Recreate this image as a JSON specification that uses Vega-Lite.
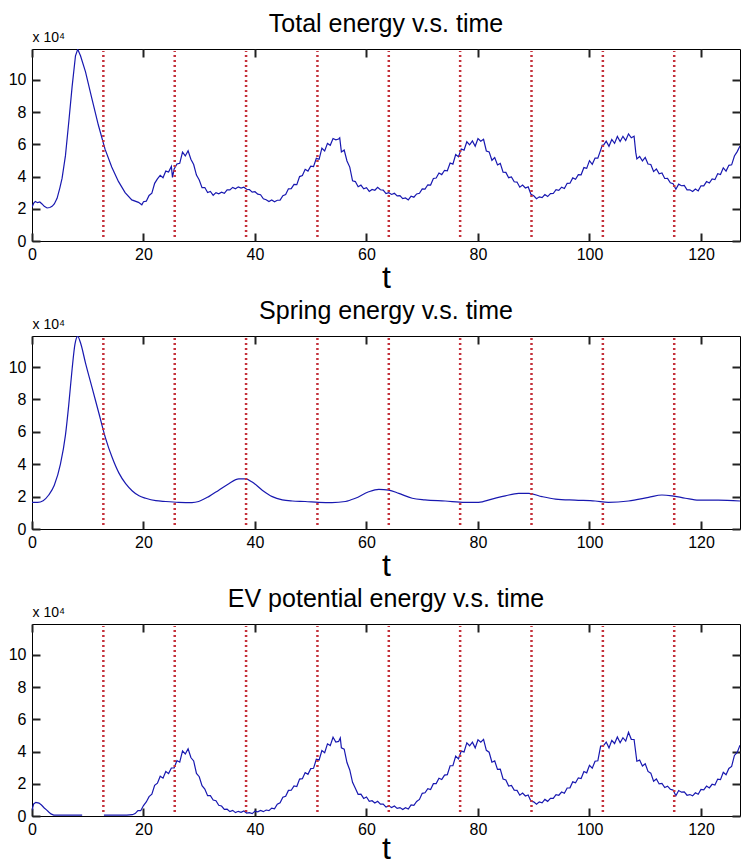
{
  "$schema": "https://vega.github.io/schema/vega-lite/v6.json",
  "background": "white",
  "padding": {"left": 7, "top": 11, "right": 0, "bottom": 0},
  "bounds": "flush",
  "spacing": 95,
  "datasets": {
    "vlines": [{"x": 12.8}, {"x": 25.6}, {"x": 38.4}, {"x": 51.2}, {"x": 64}, {"x": 76.8}, {"x": 89.6}, {"x": 102.4}, {"x": 115.2}],
    "total": [
      {"t":0,"v":2.1},{"t":0.3,"v":2.35},{"t":0.6,"v":2.45},{"t":1.0,"v":2.38},{"t":1.4,"v":2.42},{"t":1.8,"v":2.3},{"t":2.2,"v":2.15},{"t":2.7,"v":2.05},{"t":3.2,"v":2.08},{"t":3.6,"v":2.15},{"t":4.0,"v":2.3},{"t":4.5,"v":2.65},{"t":5.0,"v":3.3},{"t":5.4,"v":3.9},{"t":6.0,"v":5.3},{"t":6.6,"v":7.4},{"t":7.2,"v":9.6},{"t":7.8,"v":11.5},{"t":8.2,"v":11.9},{"t":8.7,"v":11.5},{"t":9.6,"v":10.5},{"t":10.7,"v":8.9},{"t":11.9,"v":7.2},{"t":13.1,"v":5.7},{"t":14.3,"v":4.6},{"t":15.5,"v":3.7},{"t":16.7,"v":3.0},{"t":17.9,"v":2.55},{"t":19.1,"v":2.4},{"t":19.7,"v":2.25},
      {"t":20,"v":2.44},{"t":20.5,"v":2.47},{"t":21,"v":2.83},{"t":21.5,"v":2.97},{"t":22,"v":3.58},{"t":22.5,"v":3.86},{"t":23,"v":4.08},{"t":23.5,"v":3.93},{"t":24,"v":4.34},{"t":24.5,"v":4.28},{"t":25,"v":4.63},{"t":25.2,"v":3.95},{"t":25.5,"v":4.48},{"t":26,"v":4.78},{"t":26.5,"v":4.82},{"t":27,"v":5.52},{"t":27.5,"v":5.28},{"t":28,"v":5.6},{"t":28.5,"v":5.08},{"t":29,"v":4.75},{"t":29.5,"v":4.09},{"t":30,"v":3.79},{"t":30.5,"v":3.31},{"t":31,"v":3.32},{"t":31.5,"v":3.01},{"t":32,"v":3.08},{"t":32.5,"v":2.84},{"t":33,"v":3.0},{"t":33.5,"v":2.93},{"t":34,"v":3.03},{"t":34.5,"v":2.96},{"t":35,"v":3.18},{"t":35.5,"v":3.17},{"t":36,"v":3.33},{"t":36.5,"v":3.24},{"t":37,"v":3.36},{"t":37.5,"v":3.28},{"t":38,"v":3.34},{"t":38.5,"v":3.21},{"t":39,"v":3.19},{"t":39.5,"v":3.03},{"t":40,"v":3.06},{"t":40.5,"v":2.91},{"t":41,"v":2.87},{"t":41.5,"v":2.62},{"t":42,"v":2.56},{"t":42.5,"v":2.45},{"t":43,"v":2.55},{"t":43.5,"v":2.44},{"t":44,"v":2.53},{"t":44.5,"v":2.54},{"t":45,"v":2.81},{"t":45.5,"v":2.88},{"t":46,"v":3.24},{"t":46.5,"v":3.25},{"t":47,"v":3.52},{"t":47.5,"v":3.5},{"t":48,"v":4.0},{"t":48.5,"v":4.07},{"t":49,"v":4.45},{"t":49.5,"v":4.34},{"t":50,"v":4.65},{"t":50.5,"v":4.62},{"t":51,"v":5.13},{"t":51.5,"v":5.07},{"t":52,"v":5.76},{"t":52.5,"v":5.59},{"t":53,"v":6.06},{"t":53.5,"v":5.94},{"t":54,"v":6.36},{"t":54.5,"v":6.28},{"t":55,"v":6.33},{"t":55.2,"v":6.4},{"t":55.5,"v":5.53},{"t":56,"v":5.65},{"t":56.5,"v":4.97},{"t":57,"v":4.59},{"t":57.5,"v":3.74},{"t":58,"v":3.69},{"t":58.5,"v":3.37},{"t":59,"v":3.47},{"t":59.5,"v":3.24},{"t":60,"v":3.31},{"t":60.5,"v":3.08},{"t":61,"v":3.2},{"t":61.5,"v":3.15},{"t":62,"v":3.33},{"t":62.5,"v":3.18},{"t":63,"v":3.16},{"t":63.5,"v":2.94},{"t":64,"v":3.0},{"t":64.5,"v":2.89},{"t":65,"v":2.96},{"t":65.5,"v":2.8},{"t":66,"v":2.82},{"t":66.5,"v":2.63},{"t":67,"v":2.67},{"t":67.5,"v":2.55},{"t":68,"v":2.78},{"t":68.5,"v":2.72},{"t":69,"v":2.92},{"t":69.5,"v":2.96},{"t":70,"v":3.24},{"t":70.5,"v":3.22},{"t":71,"v":3.49},{"t":71.5,"v":3.47},{"t":72,"v":3.88},{"t":72.5,"v":3.91},{"t":73,"v":4.22},{"t":73.5,"v":4.12},{"t":74,"v":4.39},{"t":74.5,"v":4.36},{"t":75,"v":4.84},{"t":75.5,"v":4.77},{"t":76,"v":5.37},{"t":76.5,"v":5.23},{"t":77,"v":5.71},{"t":77.5,"v":5.64},{"t":78,"v":6.16},{"t":78.5,"v":5.97},{"t":79,"v":6.21},{"t":79.5,"v":5.88},{"t":80,"v":6.36},{"t":80.5,"v":6.19},{"t":81,"v":6.31},{"t":81.5,"v":5.59},{"t":82,"v":5.53},{"t":82.5,"v":5.01},{"t":83,"v":5.18},{"t":83.5,"v":4.72},{"t":84,"v":4.82},{"t":84.5,"v":4.27},{"t":85,"v":4.26},{"t":85.5,"v":3.93},{"t":86,"v":3.98},{"t":86.5,"v":3.68},{"t":87,"v":3.66},{"t":87.5,"v":3.34},{"t":88,"v":3.47},{"t":88.5,"v":3.29},{"t":89,"v":3.36},{"t":89.5,"v":2.9},{"t":90,"v":2.81},{"t":90.5,"v":2.63},{"t":91,"v":2.74},{"t":91.5,"v":2.69},{"t":92,"v":2.88},{"t":92.5,"v":2.76},{"t":93,"v":2.94},{"t":93.5,"v":2.95},{"t":94,"v":3.19},{"t":94.5,"v":3.14},{"t":95,"v":3.34},{"t":95.5,"v":3.26},{"t":96,"v":3.58},{"t":96.5,"v":3.59},{"t":97,"v":3.92},{"t":97.5,"v":3.83},{"t":98,"v":4.12},{"t":98.5,"v":4.11},{"t":99,"v":4.56},{"t":99.5,"v":4.51},{"t":100,"v":4.99},{"t":100.5,"v":4.76},{"t":101,"v":5.15},{"t":101.5,"v":5.14},{"t":102,"v":5.64},{"t":102.3,"v":5.95},{"t":102.5,"v":5.94},{"t":103,"v":6.2},{"t":103.5,"v":5.88},{"t":104,"v":6.3},{"t":104.5,"v":6.06},{"t":105,"v":6.49},{"t":105.5,"v":6.18},{"t":106,"v":6.5},{"t":106.5,"v":6.24},{"t":107,"v":6.65},{"t":107.5,"v":6.41},{"t":108,"v":6.5},{"t":108.3,"v":5.5},{"t":108.5,"v":5.1},{"t":109,"v":5.25},{"t":109.5,"v":4.97},{"t":110,"v":5.19},{"t":110.5,"v":4.78},{"t":111,"v":4.75},{"t":111.5,"v":4.31},{"t":112,"v":4.47},{"t":112.5,"v":4.17},{"t":113,"v":4.22},{"t":113.5,"v":3.88},{"t":114,"v":3.89},{"t":114.5,"v":3.61},{"t":115,"v":3.56},{"t":115.5,"v":3.21},{"t":116,"v":3.53},{"t":116.5,"v":3.43},{"t":117,"v":3.45},{"t":117.5,"v":3.18},{"t":118,"v":3.18},{"t":118.5,"v":3.07},{"t":119,"v":3.23},{"t":119.5,"v":3.11},{"t":120,"v":3.43},{"t":120.5,"v":3.42},{"t":121,"v":3.69},{"t":121.5,"v":3.6},{"t":122,"v":3.85},{"t":122.5,"v":3.81},{"t":123,"v":4.18},{"t":123.5,"v":4.13},{"t":124,"v":4.54},{"t":124.5,"v":4.34},{"t":125,"v":4.7},{"t":125.5,"v":4.73},{"t":126,"v":5.28},{"t":126.5,"v":5.55},{"t":127,"v":5.9}
    ],
    "spring": [
      {"t":0,"v":1.65},{"t":1,"v":1.65},{"t":2,"v":1.75},{"t":3,"v":2.1},{"t":4,"v":2.7},{"t":5.1,"v":4.0},{"t":6.0,"v":5.8},{"t":6.6,"v":7.7},{"t":7.2,"v":9.9},{"t":7.7,"v":11.4},{"t":8.2,"v":11.9},{"t":8.7,"v":11.5},{"t":9.6,"v":10.25},{"t":10.8,"v":8.7},{"t":12,"v":7.15},{"t":13.2,"v":5.6},{"t":14.4,"v":4.4},{"t":15.6,"v":3.45},{"t":16.8,"v":2.8},{"t":18,"v":2.35},{"t":19.2,"v":2.05},{"t":20.4,"v":1.9},{"t":22.2,"v":1.75},{"t":24,"v":1.7},{"t":26.3,"v":1.65},{"t":28.7,"v":1.63},{"t":29.9,"v":1.7},{"t":31.7,"v":2.0},{"t":33.5,"v":2.4},{"t":35.3,"v":2.8},{"t":37.1,"v":3.1},{"t":38.3,"v":3.1},{"t":39.5,"v":2.9},{"t":41.3,"v":2.4},{"t":43.1,"v":2.0},{"t":44.9,"v":1.8},{"t":46.7,"v":1.73},{"t":49,"v":1.7},{"t":51.4,"v":1.65},{"t":53.8,"v":1.63},{"t":56.2,"v":1.7},{"t":58,"v":1.9},{"t":60.4,"v":2.3},{"t":62.2,"v":2.45},{"t":64,"v":2.4},{"t":65.8,"v":2.2},{"t":68.2,"v":1.9},{"t":70.5,"v":1.8},{"t":74.1,"v":1.73},{"t":77.7,"v":1.65},{"t":80.1,"v":1.65},{"t":82.5,"v":1.85},{"t":84.9,"v":2.05},{"t":87.3,"v":2.2},{"t":89.1,"v":2.2},{"t":91.5,"v":2.0},{"t":93.9,"v":1.85},{"t":97.4,"v":1.78},{"t":101,"v":1.73},{"t":103.4,"v":1.65},{"t":107,"v":1.73},{"t":110.6,"v":1.95},{"t":113,"v":2.1},{"t":114.8,"v":2.05},{"t":117.2,"v":1.9},{"t":119.6,"v":1.78},{"t":123.1,"v":1.78},{"t":127,"v":1.73}
    ],
    "ev": [
      {"s":"a","t":0,"v":0.35},{"s":"a","t":0.3,"v":0.75},{"s":"a","t":0.7,"v":0.85},{"s":"a","t":1.25,"v":0.8},{"s":"a","t":1.7,"v":0.68},{"s":"a","t":2.2,"v":0.5},{"s":"a","t":2.6,"v":0.38},{"s":"a","t":3.0,"v":0.25},{"s":"a","t":3.4,"v":0.13},{"s":"a","t":3.9,"v":0.06},{"s":"a","t":4.5,"v":0.05},{"s":"a","t":6,"v":0.05},{"s":"a","t":7.5,"v":0.05},{"s":"a","t":9,"v":0.05},
      {"s":"b","t":12.9,"v":0.05},{"s":"b","t":15,"v":0.05},{"s":"b","t":17,"v":0.06},{"s":"b","t":18,"v":0.08},{"s":"b","t":18.5,"v":0.15},
      {"s":"b","t":19,"v":0.34},{"s":"b","t":19.5,"v":0.33},{"s":"b","t":20,"v":0.65},{"s":"b","t":20.5,"v":0.87},{"s":"b","t":21,"v":1.2},{"s":"b","t":21.5,"v":1.35},{"s":"b","t":22,"v":1.9},{"s":"b","t":22.5,"v":2.04},{"s":"b","t":23,"v":2.47},{"s":"b","t":23.5,"v":2.35},{"s":"b","t":24,"v":2.76},{"s":"b","t":24.5,"v":2.63},{"s":"b","t":25,"v":2.98},{"s":"b","t":25.5,"v":2.99},{"s":"b","t":26,"v":3.44},{"s":"b","t":26.5,"v":3.34},{"s":"b","t":27,"v":4.04},{"s":"b","t":27.5,"v":3.85},{"s":"b","t":28,"v":4.17},{"s":"b","t":28.5,"v":3.63},{"s":"b","t":29,"v":3.42},{"s":"b","t":29.5,"v":2.64},{"s":"b","t":30,"v":2.44},{"s":"b","t":30.5,"v":1.88},{"s":"b","t":31,"v":1.67},{"s":"b","t":31.5,"v":1.26},{"s":"b","t":32,"v":1.26},{"s":"b","t":32.5,"v":0.99},{"s":"b","t":33,"v":0.95},{"s":"b","t":33.5,"v":0.67},{"s":"b","t":34,"v":0.62},{"s":"b","t":34.5,"v":0.41},{"s":"b","t":35,"v":0.42},{"s":"b","t":35.5,"v":0.27},{"s":"b","t":36,"v":0.35},{"s":"b","t":36.5,"v":0.21},{"s":"b","t":37,"v":0.29},{"s":"b","t":37.5,"v":0.23},{"s":"b","t":38,"v":0.31},{"s":"b","t":38.5,"v":0.18},{"s":"b","t":39,"v":0.21},{"s":"b","t":39.5,"v":0.15},{"s":"b","t":40,"v":0.3},{"s":"b","t":40.5,"v":0.26},{"s":"b","t":41,"v":0.35},{"s":"b","t":41.5,"v":0.27},{"s":"b","t":42,"v":0.37},{"s":"b","t":42.5,"v":0.33},{"s":"b","t":43,"v":0.49},{"s":"b","t":43.5,"v":0.44},{"s":"b","t":44,"v":0.73},{"s":"b","t":44.5,"v":0.82},{"s":"b","t":45,"v":1.16},{"s":"b","t":45.5,"v":1.23},{"s":"b","t":46,"v":1.59},{"s":"b","t":46.5,"v":1.6},{"s":"b","t":47,"v":1.87},{"s":"b","t":47.5,"v":1.83},{"s":"b","t":48,"v":2.29},{"s":"b","t":48.5,"v":2.32},{"s":"b","t":49,"v":2.7},{"s":"b","t":49.5,"v":2.59},{"s":"b","t":50,"v":2.94},{"s":"b","t":50.5,"v":2.96},{"s":"b","t":51,"v":3.52},{"s":"b","t":51.5,"v":3.48},{"s":"b","t":52,"v":4.06},{"s":"b","t":52.5,"v":3.93},{"s":"b","t":53,"v":4.48},{"s":"b","t":53.5,"v":4.37},{"s":"b","t":54,"v":4.89},{"s":"b","t":54.5,"v":4.59},{"s":"b","t":55,"v":4.63},{"s":"b","t":55.3,"v":4.85},{"s":"b","t":55.5,"v":4.23},{"s":"b","t":56,"v":4.15},{"s":"b","t":56.5,"v":3.32},{"s":"b","t":57,"v":2.86},{"s":"b","t":57.5,"v":2.09},{"s":"b","t":58,"v":1.72},{"s":"b","t":58.5,"v":1.35},{"s":"b","t":59,"v":1.36},{"s":"b","t":59.5,"v":1.09},{"s":"b","t":60,"v":1.18},{"s":"b","t":60.5,"v":0.91},{"s":"b","t":61,"v":0.95},{"s":"b","t":61.5,"v":0.81},{"s":"b","t":62,"v":0.91},{"s":"b","t":62.5,"v":0.74},{"s":"b","t":63,"v":0.74},{"s":"b","t":63.5,"v":0.55},{"s":"b","t":64,"v":0.63},{"s":"b","t":64.5,"v":0.53},{"s":"b","t":65,"v":0.62},{"s":"b","t":65.5,"v":0.47},{"s":"b","t":66,"v":0.52},{"s":"b","t":66.5,"v":0.4},{"s":"b","t":67,"v":0.51},{"s":"b","t":67.5,"v":0.43},{"s":"b","t":68,"v":0.69},{"s":"b","t":68.5,"v":0.66},{"s":"b","t":69,"v":0.9},{"s":"b","t":69.5,"v":1.03},{"s":"b","t":70,"v":1.41},{"s":"b","t":70.5,"v":1.44},{"s":"b","t":71,"v":1.69},{"s":"b","t":71.5,"v":1.64},{"s":"b","t":72,"v":2.01},{"s":"b","t":72.5,"v":2.01},{"s":"b","t":73,"v":2.34},{"s":"b","t":73.5,"v":2.26},{"s":"b","t":74,"v":2.54},{"s":"b","t":74.5,"v":2.57},{"s":"b","t":75,"v":3.12},{"s":"b","t":75.5,"v":3.12},{"s":"b","t":76,"v":3.72},{"s":"b","t":76.5,"v":3.55},{"s":"b","t":77,"v":4.03},{"s":"b","t":77.5,"v":3.98},{"s":"b","t":78,"v":4.54},{"s":"b","t":78.5,"v":4.36},{"s":"b","t":79,"v":4.58},{"s":"b","t":79.5,"v":4.23},{"s":"b","t":80,"v":4.73},{"s":"b","t":80.5,"v":4.58},{"s":"b","t":81,"v":4.76},{"s":"b","t":81.5,"v":4.08},{"s":"b","t":82,"v":3.96},{"s":"b","t":82.5,"v":3.34},{"s":"b","t":83,"v":3.42},{"s":"b","t":83.5,"v":2.89},{"s":"b","t":84,"v":2.91},{"s":"b","t":84.5,"v":2.3},{"s":"b","t":85,"v":2.24},{"s":"b","t":85.5,"v":1.86},{"s":"b","t":86,"v":1.9},{"s":"b","t":86.5,"v":1.61},{"s":"b","t":87,"v":1.59},{"s":"b","t":87.5,"v":1.29},{"s":"b","t":88,"v":1.42},{"s":"b","t":88.5,"v":1.24},{"s":"b","t":89,"v":1.31},{"s":"b","t":89.5,"v":0.92},{"s":"b","t":90,"v":0.88},{"s":"b","t":90.5,"v":0.73},{"s":"b","t":91,"v":0.88},{"s":"b","t":91.5,"v":0.82},{"s":"b","t":92,"v":1.03},{"s":"b","t":92.5,"v":0.91},{"s":"b","t":93,"v":1.09},{"s":"b","t":93.5,"v":1.09},{"s":"b","t":94,"v":1.33},{"s":"b","t":94.5,"v":1.29},{"s":"b","t":95,"v":1.49},{"s":"b","t":95.5,"v":1.41},{"s":"b","t":96,"v":1.74},{"s":"b","t":96.5,"v":1.75},{"s":"b","t":97,"v":2.12},{"s":"b","t":97.5,"v":2.06},{"s":"b","t":98,"v":2.37},{"s":"b","t":98.5,"v":2.33},{"s":"b","t":99,"v":2.76},{"s":"b","t":99.5,"v":2.68},{"s":"b","t":100,"v":3.15},{"s":"b","t":100.5,"v":2.97},{"s":"b","t":101,"v":3.4},{"s":"b","t":101.5,"v":3.43},{"s":"b","t":102,"v":4.34},{"s":"b","t":102.5,"v":4.36},{"s":"b","t":103,"v":4.59},{"s":"b","t":103.5,"v":4.23},{"s":"b","t":104,"v":4.7},{"s":"b","t":104.5,"v":4.5},{"s":"b","t":105,"v":4.91},{"s":"b","t":105.5,"v":4.55},{"s":"b","t":106,"v":4.86},{"s":"b","t":106.5,"v":4.65},{"s":"b","t":107,"v":5.2},{"s":"b","t":107.5,"v":4.76},{"s":"b","t":108,"v":4.75},{"s":"b","t":108.5,"v":3.4},{"s":"b","t":109,"v":3.47},{"s":"b","t":109.5,"v":3.1},{"s":"b","t":110,"v":3.24},{"s":"b","t":110.5,"v":2.77},{"s":"b","t":111,"v":2.66},{"s":"b","t":111.5,"v":2.16},{"s":"b","t":112,"v":2.3},{"s":"b","t":112.5,"v":1.99},{"s":"b","t":113,"v":2.02},{"s":"b","t":113.5,"v":1.77},{"s":"b","t":114,"v":1.85},{"s":"b","t":114.5,"v":1.66},{"s":"b","t":115,"v":1.61},{"s":"b","t":115.5,"v":1.26},{"s":"b","t":116,"v":1.58},{"s":"b","t":116.5,"v":1.48},{"s":"b","t":117,"v":1.5},{"s":"b","t":117.5,"v":1.29},{"s":"b","t":118,"v":1.33},{"s":"b","t":118.5,"v":1.25},{"s":"b","t":119,"v":1.44},{"s":"b","t":119.5,"v":1.35},{"s":"b","t":120,"v":1.65},{"s":"b","t":120.5,"v":1.62},{"s":"b","t":121,"v":1.86},{"s":"b","t":121.5,"v":1.74},{"s":"b","t":122,"v":1.97},{"s":"b","t":122.5,"v":1.92},{"s":"b","t":123,"v":2.29},{"s":"b","t":123.5,"v":2.26},{"s":"b","t":124,"v":2.72},{"s":"b","t":124.5,"v":2.56},{"s":"b","t":125,"v":2.95},{"s":"b","t":125.5,"v":3.08},{"s":"b","t":126,"v":3.76},{"s":"b","t":126.5,"v":3.95},{"s":"b","t":127,"v":4.4}
    ]
  },
  "config": {
    "font": "Liberation Sans",
    "view": {"stroke": "#000000", "strokeWidth": 1},
    "axis": {
      "grid": false, "domain": false, "ticks": true, "tickColor": "#222222", "tickOpacity": 1, "tickSize": 8, "tickWidth": 2, "offset": -8,
      "labelFont": "Liberation Sans", "labelFontSize": 16, "labelColor": "#000000",
      "labelFlush": false, "labelOverlap": false,
      "titleFont": "Liberation Sans", "titleFontWeight": "normal", "titleColor": "#000000"
    },
    "title": {"font": "Liberation Sans", "fontSize": 25, "fontWeight": "normal", "color": "#000000", "anchor": "middle", "baseline": "alphabetic", "frame": "group", "offset": -7}
  },
  "vconcat": [
    {
      "width": 708, "height": 192,
      "title": {"text": "Total energy v.s. time"},
      "layer": [
        {"data": {"name": "total"}, "mark": {"type": "line", "color": "#1818b0", "strokeWidth": 1.2, "clip": true},
         "encoding": {
           "x": {"field": "t", "type": "quantitative", "scale": {"domain": [0, 127], "nice": false, "zero": false},
                 "axis": {"orient": "bottom", "values": [0,20,40,60,80,100,120], "tickColor": "#222222", "tickWidth": 2, "labelFontSize": 16, "labelPadding": 5, "title": "t", "titleFontSize": 32, "titleBaseline": "alphabetic", "titleY": 54}},
           "y": {"field": "v", "type": "quantitative", "scale": {"domain": [0, 11.92], "nice": false},
                 "axis": {"orient": "left", "values": [0,2,4,6,8,10], "tickColor": "#222222", "tickWidth": 2, "labelFontSize": 16, "labelPadding": 6, "title": "x 10⁴", "titleFontSize": 14, "titleAngle": 0, "titleAlign": "left", "titleBaseline": "alphabetic", "titleX": -8, "titleY": -8}}
         }},
        {"data": {"name": "vlines"}, "mark": {"type": "rule", "color": "#c4303a", "strokeWidth": 2.5, "strokeDash": [2, 3]},
         "encoding": {
           "x": {"field": "x", "type": "quantitative", "axis": {"orient": "top", "values": [0,20,40,60,80,100,120], "tickColor": "#222222", "tickWidth": 2, "labels": false, "title": null}},
           "y": {"datum": 0.25, "type": "quantitative", "axis": {"orient": "right", "values": [0,2,4,6,8,10], "tickColor": "#222222", "tickWidth": 2, "labels": false, "title": null}},
           "y2": {"datum": 11.8}
         }}
      ],
      "resolve": {"axis": {"x": "independent", "y": "independent"}}
    },
    {
      "width": 708, "height": 193,
      "title": {"text": "Spring energy v.s. time"},
      "layer": [
        {"data": {"name": "spring"}, "mark": {"type": "line", "color": "#1818b0", "strokeWidth": 1.2, "clip": true, "interpolate": "monotone"},
         "encoding": {
           "x": {"field": "t", "type": "quantitative", "scale": {"domain": [0, 127], "nice": false, "zero": false},
                 "axis": {"orient": "bottom", "values": [0,20,40,60,80,100,120], "tickColor": "#222222", "tickWidth": 2, "labelFontSize": 16, "labelPadding": 5, "title": "t", "titleFontSize": 32, "titleBaseline": "alphabetic", "titleY": 54}},
           "y": {"field": "v", "type": "quantitative", "scale": {"domain": [0, 11.92], "nice": false},
                 "axis": {"orient": "left", "values": [0,2,4,6,8,10], "tickColor": "#222222", "tickWidth": 2, "labelFontSize": 16, "labelPadding": 6, "title": "x 10⁴", "titleFontSize": 14, "titleAngle": 0, "titleAlign": "left", "titleBaseline": "alphabetic", "titleX": -8, "titleY": -8}}
         }},
        {"data": {"name": "vlines"}, "mark": {"type": "rule", "color": "#c4303a", "strokeWidth": 2.5, "strokeDash": [2, 3]},
         "encoding": {
           "x": {"field": "x", "type": "quantitative", "axis": {"orient": "top", "values": [0,20,40,60,80,100,120], "tickColor": "#222222", "tickWidth": 2, "labels": false, "title": null}},
           "y": {"datum": 0.25, "type": "quantitative", "axis": {"orient": "right", "values": [0,2,4,6,8,10], "tickColor": "#222222", "tickWidth": 2, "labels": false, "title": null}},
           "y2": {"datum": 11.8}
         }}
      ],
      "resolve": {"axis": {"x": "independent", "y": "independent"}}
    },
    {
      "width": 708, "height": 192,
      "title": {"text": "EV potential energy v.s. time"},
      "layer": [
        {"data": {"name": "ev"}, "mark": {"type": "line", "color": "#1818b0", "strokeWidth": 1.2, "clip": true},
         "encoding": {
           "x": {"field": "t", "type": "quantitative", "scale": {"domain": [0, 127], "nice": false, "zero": false},
                 "axis": {"orient": "bottom", "values": [0,20,40,60,80,100,120], "tickColor": "#222222", "tickWidth": 2, "labelFontSize": 16, "labelPadding": 5, "title": "t", "titleFontSize": 32, "titleBaseline": "alphabetic", "titleY": 50}},
           "y": {"field": "v", "type": "quantitative", "scale": {"domain": [0, 11.92], "nice": false},
                 "axis": {"orient": "left", "values": [0,2,4,6,8,10], "tickColor": "#222222", "tickWidth": 2, "labelFontSize": 16, "labelPadding": 6, "title": "x 10⁴", "titleFontSize": 14, "titleAngle": 0, "titleAlign": "left", "titleBaseline": "alphabetic", "titleX": -8, "titleY": -8}},
           "detail": {"field": "s", "type": "nominal"}
         }},
        {"data": {"name": "vlines"}, "mark": {"type": "rule", "color": "#c4303a", "strokeWidth": 2.5, "strokeDash": [2, 3]},
         "encoding": {
           "x": {"field": "x", "type": "quantitative", "axis": {"orient": "top", "values": [0,20,40,60,80,100,120], "tickColor": "#222222", "tickWidth": 2, "labels": false, "title": null}},
           "y": {"datum": 0.25, "type": "quantitative", "axis": {"orient": "right", "values": [0,2,4,6,8,10], "tickColor": "#222222", "tickWidth": 2, "labels": false, "title": null}},
           "y2": {"datum": 11.8}
         }}
      ],
      "resolve": {"axis": {"x": "independent", "y": "independent"}}
    }
  ]
}
